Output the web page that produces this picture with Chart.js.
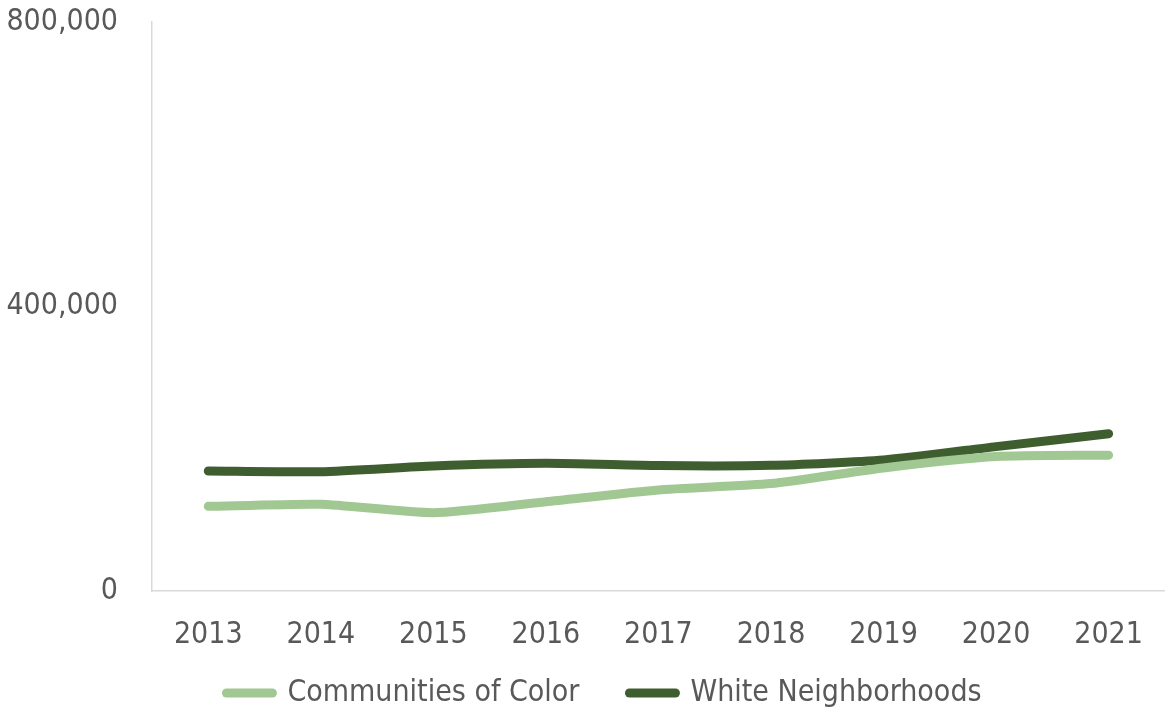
<!DOCTYPE html>
<html>
<head>
<meta charset="utf-8">
<script src="https://cdn.jsdelivr.net/npm/chart.js@4/dist/chart.umd.min.js"></script>
<style>
html,body{margin:0;padding:0;background:#fff;}
#wrap{width:1169px;height:713px;position:relative;}
</style>
</head>
<body>
<div id="wrap"><canvas id="c" width="1169" height="713"></canvas></div>
<script>
const years = ['2013','2014','2015','2016','2017','2018','2019','2020','2021'];
const communitiesOfColor = [119000, 122000, 110000, 125500, 142000, 151000, 173000, 189000, 191000];
const whiteNeighborhoods = [168700, 167700, 175700, 179500, 176300, 176700, 184200, 203000, 221000];
const yTicks = [0, 400000, 800000];

const FONT = "'Liberation Sans Narrow', 'DejaVu Sans Condensed', sans-serif";
const TXT = '#595959';

// keeps the legend compact and places it as in the reference
const legendLayout = {
  id: 'legendLayout',
  beforeLayout(chart) {
    const lg = chart.legend;
    if (lg && !lg._patched) {
      const orig = lg.fit;
      lg.fit = function () { orig.call(this); this.height = 60; };
      lg._patched = true;
    }
  },
  afterLayout(chart) {
    const lg = chart.legend;
    if (lg) { lg.left += 20; lg.right += 20; lg.top -= 25; lg.height = lg.bottom - lg.top; }
  }
};

new Chart(document.getElementById('c'), {
  type: 'line',
  data: {
    labels: years,
    datasets: [
      {label: 'Communities of Color', data: communitiesOfColor, borderColor: '#a1c893', backgroundColor: '#a1c893', borderWidth: 9, pointRadius: 0, tension: 0.2, borderCapStyle: 'round', borderJoinStyle: 'round', pointStyle: 'line'},
      {label: 'White Neighborhoods', data: whiteNeighborhoods, borderColor: '#3f5e30', backgroundColor: '#3f5e30', borderWidth: 9, pointRadius: 0, tension: 0.2, borderCapStyle: 'round', borderJoinStyle: 'round', pointStyle: 'line'}
    ]
  },
  plugins: [legendLayout],
  options: {
    responsive: false,
    animation: false,
    layout: {padding: {top: 22, right: 1, left: 0, bottom: 0}},
    plugins: {
      tooltip: {enabled: false},
      legend: {
        position: 'bottom',
        labels: {
          font: {family: FONT, size: 30},
          color: TXT,
          usePointStyle: true,
          pointStyleWidth: 46,
          padding: 50,
          generateLabels: chart => Chart.defaults.plugins.legend.labels.generateLabels(chart)
            .map(l => Object.assign(l, {lineCap: 'round'}))
        }
      }
    },
    scales: {
      x: {
        offset: true,
        afterFit: s => { s.height = 62; },
        grid: {display: false, drawTicks: false},
        border: {display: true, color: '#d9d9d9', width: 1.5},
        ticks: {font: {family: FONT, size: 30}, color: TXT, padding: 26, maxRotation: 0}
      },
      y: {
        min: 0, max: 800000,
        afterFit: s => { s.width = 152; s.paddingTop = 0; s.paddingBottom = 0; },
        afterBuildTicks: s => { s.ticks = yTicks.map(v => ({value: v})); },
        grid: {display: false, drawTicks: false},
        border: {display: true, color: '#d9d9d9', width: 1.5},
        ticks: {font: {family: FONT, size: 30}, color: TXT, padding: 34,
          callback: v => v.toLocaleString('en-US')}
      }
    }
  }
});
</script>
</body>
</html>
